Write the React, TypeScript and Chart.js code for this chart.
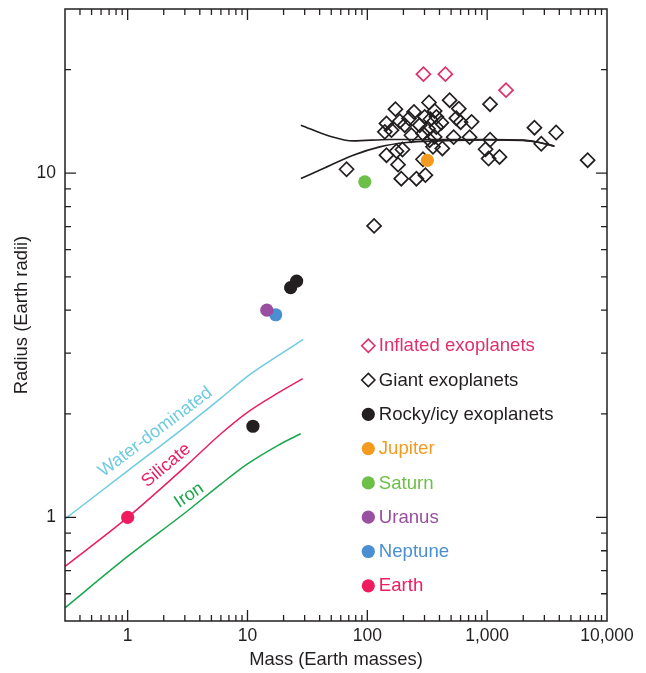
import React, { useEffect, useRef } from 'react';
import { Chart, registerables } from 'chart.js';

Chart.register(...registerables);

const FONT = "'Liberation Sans', Arial, Helvetica, sans-serif";
const INK = '#231f20';

// Axis ticks
const xTickValues = [1, 10, 100, 1000, 10000];
const xTickLabels = ['1', '10', '100', '1,000', '10,000'];
const yTickValues = [1, 10];
const yTickLabels = ['1', '10'];

// Giant exoplanets (mass in Earth masses, radius in Earth radii)
const giantMass = [
  67.1, 113.9, 139.9, 144.5, 144.5, 159.0, 171.7, 175.1, 196.4, 180.5,
  191.9, 205.2, 222.8, 233.3, 245.2, 256.8, 273.6, 291.4, 291.4, 301.1,
  305.2, 327.0, 331.4, 353.1, 364.8, 364.8, 376.9, 414.8, 422.8, 486.3,
  525.1, 552.9, 580.1, 600.5, 713.6, 741.6, 969.8, 1027, 1057, 1057,
  1268, 2481, 2827, 3762, 6895, 335.9, 376.9, 320.8, 186.5,
];
const giantRadius = [
  10.27, 7.03, 13.19, 13.95, 11.28, 13.34, 15.35, 11.59, 11.72, 10.59,
  9.64, 13.79, 14.42, 12.89, 15.07, 9.64, 13.79, 13.04, 10.98, 14.58,
  9.87, 16.05, 12.47, 11.93, 15.17, 12.75, 14.58, 14.02, 11.8, 16.3,
  12.73, 14.45, 15.4, 14.07, 12.73, 14.1, 11.74, 11.03, 15.87, 12.51,
  11.15, 13.56, 12.18, 13.13, 10.91, 14.35, 13.61, 13.47, 14.16,
];

// Inflated exoplanets
const inflatedMass = [293.8, 447.9, 1437];
const inflatedRadius = [19.4, 19.4, 17.43];

// Rocky / icy exoplanets
const rockyMass = [25.7, 22.9, 11.1];
const rockyRadius = [4.86, 4.65, 1.84];

// Solar system planets
const solarNames = ['Jupiter', 'Saturn', 'Uranus', 'Neptune', 'Earth'];
const solarMass = [317, 95.3, 14.5, 17.2, 1.0];
const solarRadius = [10.9, 9.44, 4.0, 3.88, 1.0];
const solarColors = ['#f39a1f', '#6cbf47', '#984f9f', '#4a8fd1', '#ee1b5f'];

// Composition curves
const waterMass = [0.3, 1, 3, 6, 10, 18, 29.2];
const waterRadius = [0.99, 1.365, 1.83, 2.22, 2.57, 2.95, 3.29];
const silicateMass = [0.3, 1, 3, 6, 10, 18, 28.9];
const silicateRadius = [0.72, 1.0, 1.4, 1.75, 2.02, 2.3, 2.53];
const ironMass = [0.3, 1, 3, 6, 10, 18, 27.8];
const ironRadius = [0.546, 0.77, 1.03, 1.25, 1.43, 1.62, 1.75];

// Giant-planet model curves
const modelUpperMass = [27.9, 48.7, 76.2, 154, 401.6, 1047, 1983, 2731, 3640];
const modelUpperRadius = [13.79, 12.81, 12.41, 12.53, 12.53, 12.53, 12.47, 12.28, 11.98];
const modelLowerMass = [27.9, 42.9, 76.2, 127.1, 212.1, 401.6, 1047, 1983, 2731, 3640];
const modelLowerRadius = [9.65, 10.32, 11.28, 11.93, 12.28, 12.41, 12.5, 12.45, 12.28, 11.98];

// Curve labels
const curveLabels = ['Water-dominated', 'Silicate', 'Iron'];
const curveLabelMass = [1.7, 2.1, 3.26];
const curveLabelRadius = [1.77, 1.416, 1.159];
const curveLabelAngle = [-37, -40, -34];
const curveColors = ['#6fcbe0', '#ea1e63', '#19a64b'];

const INFLATED_COLOR = '#e0306a';

const zip = (xs: number[], ys: number[]) => xs.map((x, i) => ({ x, y: ys[i] }));

function minorValues(min: number, max: number, majors: number[]) {
  const out: number[] = [];
  for (let d = Math.floor(Math.log10(min)); d <= Math.ceil(Math.log10(max)); d++) {
    for (let k = 1; k <= 9; k++) {
      const v = +(k * Math.pow(10, d)).toPrecision(6);
      if (v > min * 1.0001 && v < max * 0.9999 && !majors.includes(v)) out.push(v);
    }
  }
  return out;
}

const framePlugin = {
  id: 'frameTicksLegend',
  afterDatasetsDraw(chart: any) {
    const { ctx, chartArea: a, scales } = chart;
    const xs = scales.x;
    const ys = scales.y;
    ctx.save();
    ctx.strokeStyle = INK;
    ctx.lineWidth = 1.5;
    ctx.strokeRect(a.left, a.top, a.right - a.left, a.bottom - a.top);

    const MAJ = 11;
    const MIN = 6;
    ctx.lineWidth = 1.3;
    const xMinor = minorValues(xs.min, xs.max, xTickValues);
    const yMinor = minorValues(ys.min, ys.max, yTickValues);
    const tickX = (v: number, len: number) => {
      const p = xs.getPixelForValue(v);
      ctx.beginPath();
      ctx.moveTo(p, a.bottom); ctx.lineTo(p, a.bottom - len);
      ctx.moveTo(p, a.top); ctx.lineTo(p, a.top + len);
      ctx.stroke();
    };
    const tickY = (v: number, len: number) => {
      const p = ys.getPixelForValue(v);
      ctx.beginPath();
      ctx.moveTo(a.left, p); ctx.lineTo(a.left + len, p);
      ctx.moveTo(a.right, p); ctx.lineTo(a.right - len, p);
      ctx.stroke();
    };
    xTickValues.forEach((v) => { if (v > xs.min && v < xs.max) tickX(v, MAJ); });
    xMinor.forEach((v) => tickX(v, MIN));
    yTickValues.forEach((v) => tickY(v, MAJ));
    yMinor.forEach((v) => tickY(v, MIN));

    // Curve labels
    ctx.font = `18px ${FONT}`;
    ctx.textAlign = 'center';
    ctx.textBaseline = 'middle';
    curveLabels.forEach((t, i) => {
      const px = xs.getPixelForValue(curveLabelMass[i]);
      const py = ys.getPixelForValue(curveLabelRadius[i]);
      ctx.save();
      ctx.translate(px, py);
      ctx.rotate((curveLabelAngle[i] * Math.PI) / 180);
      ctx.fillStyle = curveColors[i];
      ctx.fillText(t, 0, 0);
      ctx.restore();
    });

    // Legend
    const legendDatasets = chart.data.datasets.filter((d: any) => d.inLegend);
    const lx = a.left + 303.3;
    let ly = a.top + 336.7;
    const dy = 34.3;
    ctx.textAlign = 'left';
    ctx.font = `18.6px ${FONT}`;
    legendDatasets.forEach((d: any) => {
      if (d.pointStyle === 'rectRot') {
        const r = 6.6;
        ctx.beginPath();
        ctx.moveTo(lx, ly - r);
        ctx.lineTo(lx + r, ly);
        ctx.lineTo(lx, ly + r);
        ctx.lineTo(lx - r, ly);
        ctx.closePath();
        ctx.lineWidth = 1.6;
        ctx.strokeStyle = d.borderColor;
        ctx.stroke();
      } else {
        ctx.beginPath();
        ctx.arc(lx, ly, 6.6, 0, Math.PI * 2);
        ctx.fillStyle = d.backgroundColor;
        ctx.fill();
      }
      ctx.fillStyle = d.legendTextColor;
      ctx.fillText(d.label, lx + 10.5, ly + 0.5);
      ly += dy;
    });
    ctx.restore();
  },
};

export default function App() {
  const ref = useRef<HTMLCanvasElement | null>(null);
  useEffect(() => {
    if (!ref.current) return;
    const lineDs = (label: string, xs: number[], ys: number[], color: string, width: number) => ({
      label,
      data: zip(xs, ys),
      showLine: true,
      borderColor: color,
      backgroundColor: color,
      borderWidth: width,
      pointRadius: 0,
      cubicInterpolationMode: 'monotone',
      order: 3,
    });
    const solarDs = solarNames.map((n, i) => ({
      label: n,
      data: [{ x: solarMass[i], y: solarRadius[i] }],
      pointStyle: 'circle',
      pointRadius: 6.6,
      borderWidth: 0,
      backgroundColor: solarColors[i],
      borderColor: solarColors[i],
      legendTextColor: solarColors[i],
      inLegend: true,
      order: 0,
    }));
    const chart = new Chart(ref.current, {
      type: 'scatter',
      data: {
        datasets: [
          {
            label: 'Inflated exoplanets',
            data: zip(inflatedMass, inflatedRadius),
            pointStyle: 'rectRot',
            pointRadius: 7,
            borderWidth: 1.7,
            borderColor: INFLATED_COLOR,
            backgroundColor: 'rgba(0,0,0,0)',
            legendTextColor: INFLATED_COLOR,
            inLegend: true,
            order: 1,
          },
          {
            label: 'Giant exoplanets',
            data: zip(giantMass, giantRadius),
            pointStyle: 'rectRot',
            pointRadius: 7,
            borderWidth: 1.7,
            borderColor: INK,
            backgroundColor: 'rgba(0,0,0,0)',
            legendTextColor: INK,
            inLegend: true,
            order: 1,
          },
          {
            label: 'Rocky/icy exoplanets',
            data: zip(rockyMass, rockyRadius),
            pointStyle: 'circle',
            pointRadius: 6.6,
            borderWidth: 0,
            backgroundColor: INK,
            borderColor: INK,
            legendTextColor: INK,
            inLegend: true,
            order: 0,
          },
          ...solarDs,
          lineDs('Water-dominated', waterMass, waterRadius, curveColors[0], 1.5),
          lineDs('Silicate', silicateMass, silicateRadius, curveColors[1], 1.5),
          lineDs('Iron', ironMass, ironRadius, curveColors[2], 1.5),
          lineDs('Model upper', modelUpperMass, modelUpperRadius, INK, 1.7),
          lineDs('Model lower', modelLowerMass, modelLowerRadius, INK, 1.7),
        ] as any,
      },
      options: {
        animation: false,
        responsive: true,
        maintainAspectRatio: false,
        layout: { padding: { top: 9, right: 39, bottom: 2, left: 0 } },
        plugins: { legend: { display: false }, tooltip: { enabled: false } },
        scales: {
          x: {
            type: 'logarithmic',
            position: 'bottom',
            min: 0.3,
            max: 10000,
            afterBuildTicks: (s: any) => { s.ticks = xTickValues.map((v) => ({ value: v })); },
            afterFit: (s: any) => { s.height = 50; s.paddingLeft = 0; s.paddingRight = 0; },
            ticks: {
              autoSkip: false,
              maxRotation: 0,
              padding: 5,
              color: INK,
              font: { family: FONT, size: 17.5 },
              callback: (v: any) => {
                const i = xTickValues.indexOf(Number(v));
                return i >= 0 ? xTickLabels[i] : '';
              },
            },
            grid: { display: false, drawTicks: false },
            border: { display: false },
            title: {
              display: true,
              text: 'Mass (Earth masses)',
              color: INK,
              font: { family: FONT, size: 18.4 },
              padding: { top: 0, bottom: 0 },
            },
          },
          y: {
            type: 'logarithmic',
            position: 'left',
            min: 0.5,
            max: 30,
            afterBuildTicks: (s: any) => { s.ticks = yTickValues.map((v) => ({ value: v })); },
            afterFit: (s: any) => { s.width = 65; s.paddingTop = 0; s.paddingBottom = 0; },
            ticks: {
              autoSkip: false,
              padding: 9,
              color: INK,
              font: { family: FONT, size: 17.5 },
              callback: (v: any) => {
                const i = yTickValues.indexOf(Number(v));
                return i >= 0 ? yTickLabels[i] : '';
              },
            },
            grid: { display: false, drawTicks: false },
            border: { display: false },
            title: {
              display: true,
              text: 'Radius (Earth radii)',
              color: INK,
              font: { family: FONT, size: 18.4 },
              padding: { top: 11, bottom: 0 },
            },
          },
        },
      } as any,
      plugins: [framePlugin],
    });
    return () => chart.destroy();
  }, []);
  return (
    <div style={{ position: 'fixed', left: 0, top: 0, width: 646, height: 673, background: '#fff' }}>
      <canvas ref={ref} />
    </div>
  );
}
